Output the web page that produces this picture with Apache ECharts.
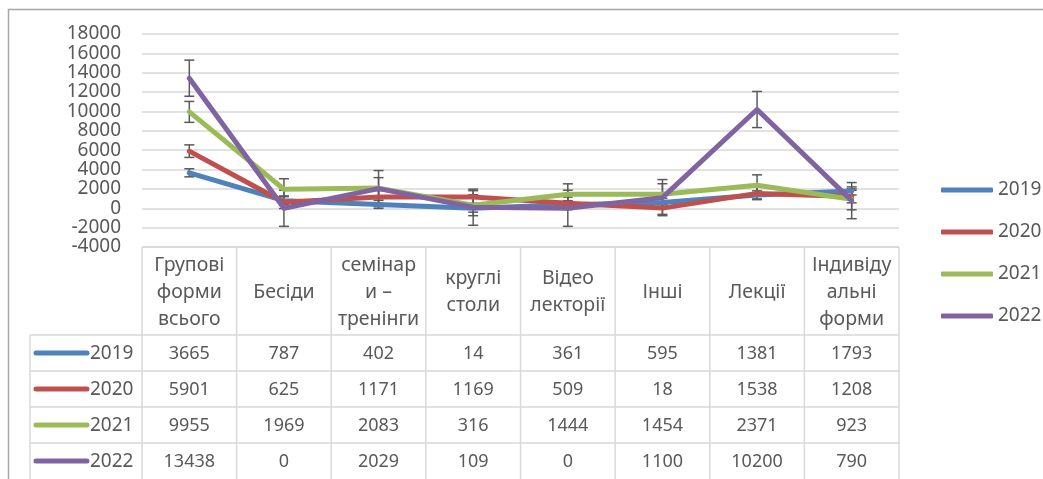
<!DOCTYPE html>
<html><head><meta charset="utf-8">
<script src="https://cdn.jsdelivr.net/npm/echarts@6/dist/echarts.min.js"></script>
<style>html,body{margin:0;padding:0;background:#fff}#c{width:1043px;height:479px}</style>
</head><body><div id="c"></div>
<script>
// ---- data ----
const categories = ['Групові\nформи\nвсього', 'Бесіди', 'семінар\nи –\nтренінги', 'круглі\nстоли', 'Відео\nлекторії', 'Інші', 'Лекції', 'Індивіду\nальні\nформи'];
const years = ['2019', '2020', '2021', '2022'];
const s2019 = [3665, 787, 402, 14, 361, 595, 1381, 1793];
const s2020 = [5901, 625, 1171, 1169, 509, 18, 1538, 1208];
const s2021 = [9955, 1969, 2083, 316, 1444, 1454, 2371, 923];
const s2022 = [13438, 0, 2029, 109, 0, 1100, 10200, 790];
// error bar half-lengths (one per series)
const errors = [416, 649, 1081, 1866];
const yMin = -4000, yMax = 18000, yStep = 2000;

// ---- style ----
const colors = ['#4F81BD', '#C0504D', '#9BBB59', '#8064A2'];
const FONT = 'Noto Sans';
const TXT = '#595959';
const LINEC = '#D9D9D9';
const W = 1043, H = 479;
const GRID = { left: 142, right: 144, top: 34, bottom: 232 };

const values = [s2019, s2020, s2021, s2022];
const chart = echarts.init(document.getElementById('c'), null, { renderer: 'canvas' });

const series = [];
values.forEach((vals, k) => {
  series.push({
    type: 'custom', z: 2, silent: true,
    data: vals.map((v, i) => [i, v - errors[k], v + errors[k]]),
    encode: { x: 0, y: [1, 2] },
    renderItem: (p, api) => {
      const lo = api.coord([api.value(0), api.value(1)]);
      const hi = api.coord([api.value(0), api.value(2)]);
      const c = 5;
      const st = { stroke: '#5A5A5A', lineWidth: 1.5 };
      return { type: 'group', children: [
        { type: 'line', shape: { x1: lo[0], y1: lo[1], x2: hi[0], y2: hi[1] }, style: st },
        { type: 'line', shape: { x1: lo[0] - c, y1: lo[1], x2: lo[0] + c, y2: lo[1] }, style: st },
        { type: 'line', shape: { x1: hi[0] - c, y1: hi[1], x2: hi[0] + c, y2: hi[1] }, style: st }
      ] };
    }
  });
});
values.forEach((vals, k) => {
  series.push({
    name: years[k], type: 'line', data: vals, symbol: 'none', z: 3,
    lineStyle: { width: 5, color: colors[k], cap: 'round', join: 'round' },
    itemStyle: { color: colors[k] }
  });
});

chart.setOption({
  animation: false,
  backgroundColor: '#fff',
  grid: GRID,
  xAxis: {
    type: 'category', data: categories, boundaryGap: true,
    axisLine: { show: false }, axisTick: { show: false }, axisLabel: { show: false }, splitLine: { show: false }
  },
  yAxis: {
    type: 'value', min: yMin, max: yMax, interval: yStep,
    axisLine: { show: false }, axisTick: { show: false },
    axisLabel: { fontFamily: FONT, fontSize: 19, color: TXT, margin: 21, formatter: v => String(v) },
    splitLine: { lineStyle: { color: LINEC, width: 1.5 } }
  },
  legend: {
    data: years, orient: 'vertical', left: 936, top: 174, itemGap: 20,
    icon: 'roundRect', itemWidth: 52, itemHeight: 5,
    textStyle: { fontFamily: FONT, fontSize: 19, color: TXT, lineHeight: 22 }
  },
  series: series
});

// ---- data table & frame ----
const x0 = GRID.left, x1 = W - GRID.right;
const tableTop = H - GRID.bottom;
const headBottom = 335, rowH = 36, legLeft = 30;
const colW = (x1 - x0) / categories.length;
const g = [];
const ls = { stroke: LINEC, lineWidth: 1.5 };
g.push({ type: 'rect', shape: { x: 8.5, y: 9.5, width: W, height: H }, style: { fill: null, stroke: '#A6A6A6', lineWidth: 1.5 }, silent: true });
g.push({ type: 'line', shape: { x1: x0, y1: tableTop, x2: x1, y2: tableTop }, style: ls });
for (let r = 0; r < 4; r++) {
  const y = headBottom + r * rowH;
  g.push({ type: 'line', shape: { x1: legLeft, y1: y, x2: x1, y2: y }, style: ls });
}
g.push({ type: 'line', shape: { x1: legLeft, y1: headBottom, x2: legLeft, y2: H }, style: ls });
for (let i = 0; i <= categories.length; i++) {
  const x = x0 + i * colW;
  g.push({ type: 'line', shape: { x1: x, y1: tableTop, x2: x, y2: H }, style: ls });
}
categories.forEach((cat, i) => {
  const cx = chart.convertToPixel({ xAxisIndex: 0 }, i);
  g.push({ type: 'text', x: cx, y: (tableTop + headBottom) / 2 + 1,
    style: { text: cat, fontFamily: FONT, fontSize: 19.5, fill: TXT, align: 'center', verticalAlign: 'middle', lineHeight: 27 } });
  values.forEach((vals, k) => {
    g.push({ type: 'text', x: cx, y: headBottom + k * rowH + rowH / 2 + 1,
      style: { text: String(vals[i]), fontFamily: FONT, fontSize: 18, fill: TXT, align: 'center', verticalAlign: 'middle' } });
  });
});
years.forEach((yr, k) => {
  const cy = headBottom + k * rowH + rowH / 2;
  g.push({ type: 'line', shape: { x1: 36, y1: cy, x2: 87, y2: cy }, style: { stroke: colors[k], lineWidth: 5, lineCap: 'round' } });
  g.push({ type: 'text', x: 90, y: cy + 1, style: { text: yr, fontFamily: FONT, fontSize: 19, fill: TXT, align: 'left', verticalAlign: 'middle' } });
});
chart.setOption({ graphic: g });
</script>
</body></html>
